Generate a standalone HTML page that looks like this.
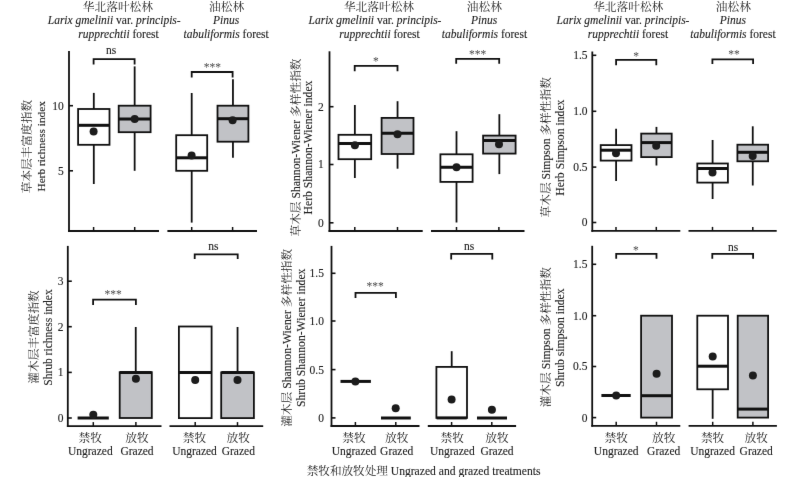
<!DOCTYPE html>
<html><head><meta charset="utf-8"><title>Figure</title>
<style>
html,body{margin:0;padding:0;background:#fff;width:800px;height:477px;overflow:hidden}
svg{display:block;will-change:transform}
text{font-family:"Liberation Serif", "Noto Serif CJK SC", serif;stroke:#1e1e1e;stroke-width:0.12px;fill:#1e1e1e}
.c{stroke:none}
.ast{stroke:none;fill:#4a4a4a}
</style></head><body>
<svg width="800" height="477" viewBox="0 0 800 477">
<defs><filter id="bl" x="0" y="0" width="800" height="477" filterUnits="userSpaceOnUse" color-interpolation-filters="sRGB"><feConvolveMatrix order="3" kernelMatrix="0.00276 0.04704 0.00276 0.04704 0.80077 0.04704 0.00276 0.04704 0.00276" divisor="1" edgeMode="duplicate"/></filter></defs>
<g filter="url(#bl)">
<rect width="800" height="477" fill="#fff"/>
<g stroke="#111111" fill="#111111">
<line x1="69" y1="51" x2="69" y2="231.9" stroke-width="1.8" stroke-linecap="butt"/>
<line x1="68.1" y1="231" x2="159" y2="231" stroke-width="1.8" stroke-linecap="butt"/>
<line x1="167.4" y1="231" x2="257" y2="231" stroke-width="1.8" stroke-linecap="butt"/>
<line x1="69" y1="105.7" x2="73" y2="105.7" stroke-width="1.6" stroke-linecap="butt"/>
<text x="63.8" y="109.60000000000001" text-anchor="end" font-size="11.5" >10</text>
<line x1="69" y1="170.8" x2="73" y2="170.8" stroke-width="1.6" stroke-linecap="butt"/>
<text x="63.8" y="174.70000000000002" text-anchor="end" font-size="11.5" >5</text>
<line x1="93.6" y1="231" x2="93.6" y2="227" stroke-width="1.5" stroke-linecap="butt"/>
<line x1="134.7" y1="231" x2="134.7" y2="227" stroke-width="1.5" stroke-linecap="butt"/>
<line x1="191.7" y1="231" x2="191.7" y2="227" stroke-width="1.5" stroke-linecap="butt"/>
<line x1="232.6" y1="231" x2="232.6" y2="227" stroke-width="1.5" stroke-linecap="butt"/>
<line x1="93.8" y1="92.9" x2="93.8" y2="109" stroke-width="1.8" stroke-linecap="butt"/>
<line x1="93.8" y1="144.8" x2="93.8" y2="184" stroke-width="1.8" stroke-linecap="butt"/>
<rect x="78.1" y="109" width="31.400000000000006" height="35.80000000000001" fill="#fff" stroke-width="1.8"/>
<line x1="78.3" y1="125.3" x2="109.3" y2="125.3" stroke-width="3.0" stroke-linecap="butt"/>
<circle cx="93.6" cy="131.5" r="4.0" stroke="none" fill="#1c1c1c"/>
<line x1="134.65" y1="66.4" x2="134.65" y2="105.7" stroke-width="1.8" stroke-linecap="butt"/>
<line x1="134.65" y1="132.2" x2="134.65" y2="170.8" stroke-width="1.8" stroke-linecap="butt"/>
<rect x="118.7" y="105.7" width="31.89999999999999" height="26.499999999999986" fill="#c1c2c6" stroke-width="1.8"/>
<line x1="118.9" y1="118.9" x2="150.4" y2="118.9" stroke-width="3.0" stroke-linecap="butt"/>
<circle cx="134.7" cy="118.9" r="4.0" stroke="none" fill="#1c1c1c"/>
<line x1="191.7" y1="93" x2="191.7" y2="135.2" stroke-width="1.8" stroke-linecap="butt"/>
<line x1="191.7" y1="170.8" x2="191.7" y2="222.6" stroke-width="1.8" stroke-linecap="butt"/>
<rect x="176.2" y="135.2" width="31.0" height="35.60000000000002" fill="#fff" stroke-width="1.8"/>
<line x1="176.39999999999998" y1="157.8" x2="207.0" y2="157.8" stroke-width="3.0" stroke-linecap="butt"/>
<circle cx="191.6" cy="155.5" r="4.0" stroke="none" fill="#1c1c1c"/>
<line x1="232.95" y1="79.2" x2="232.95" y2="105.7" stroke-width="1.8" stroke-linecap="butt"/>
<line x1="232.95" y1="141.7" x2="232.95" y2="157.7" stroke-width="1.8" stroke-linecap="butt"/>
<rect x="217.5" y="105.7" width="30.900000000000006" height="35.999999999999986" fill="#c1c2c6" stroke-width="1.8"/>
<line x1="217.7" y1="118.7" x2="248.20000000000002" y2="118.7" stroke-width="3.0" stroke-linecap="butt"/>
<circle cx="232.6" cy="120.3" r="4.0" stroke="none" fill="#1c1c1c"/>
<polyline points="93.6,64.5 93.6,59.2 134.6,59.2 134.6,64.5" fill="none" stroke-width="1.8"/>
<text x="111" y="54.4" text-anchor="middle" font-size="11.5" >ns</text>
<polyline points="191.7,77.4 191.7,72 232.6,72 232.6,77.4" fill="none" stroke-width="1.8"/>
<text x="212.3" y="71.0" text-anchor="middle" font-size="11.5" class="ast">***</text>
<line x1="67.8" y1="245.9" x2="67.8" y2="427.0" stroke-width="1.8" stroke-linecap="butt"/>
<line x1="66.89999999999999" y1="426.1" x2="161.5" y2="426.1" stroke-width="1.8" stroke-linecap="butt"/>
<line x1="169.5" y1="426.1" x2="263.2" y2="426.1" stroke-width="1.8" stroke-linecap="butt"/>
<line x1="67.8" y1="281.2" x2="71.8" y2="281.2" stroke-width="1.6" stroke-linecap="butt"/>
<text x="63.6" y="285.09999999999997" text-anchor="end" font-size="11.5" >3</text>
<line x1="67.8" y1="326.7" x2="71.8" y2="326.7" stroke-width="1.6" stroke-linecap="butt"/>
<text x="63.6" y="330.59999999999997" text-anchor="end" font-size="11.5" >2</text>
<line x1="67.8" y1="372.4" x2="71.8" y2="372.4" stroke-width="1.6" stroke-linecap="butt"/>
<text x="63.6" y="376.29999999999995" text-anchor="end" font-size="11.5" >1</text>
<line x1="67.8" y1="418" x2="71.8" y2="418" stroke-width="1.6" stroke-linecap="butt"/>
<text x="63.6" y="421.9" text-anchor="end" font-size="11.5" >0</text>
<line x1="93.3" y1="426.1" x2="93.3" y2="422.1" stroke-width="1.5" stroke-linecap="butt"/>
<line x1="135.9" y1="426.1" x2="135.9" y2="422.1" stroke-width="1.5" stroke-linecap="butt"/>
<line x1="195.2" y1="426.1" x2="195.2" y2="422.1" stroke-width="1.5" stroke-linecap="butt"/>
<line x1="237.5" y1="426.1" x2="237.5" y2="422.1" stroke-width="1.5" stroke-linecap="butt"/>
<line x1="77.6" y1="418" x2="108.8" y2="418" stroke-width="3.0" stroke-linecap="butt"/>
<circle cx="93.3" cy="414.8" r="4.0" stroke="none" fill="#1c1c1c"/>
<line x1="135.75" y1="327" x2="135.75" y2="372.2" stroke-width="1.8" stroke-linecap="butt"/>
<rect x="119.7" y="372.2" width="32.10000000000001" height="45.80000000000001" fill="#c1c2c6" stroke-width="1.8"/>
<line x1="119.9" y1="372.4" x2="151.60000000000002" y2="372.4" stroke-width="3.0" stroke-linecap="butt"/>
<circle cx="135.9" cy="378.7" r="4.0" stroke="none" fill="#1c1c1c"/>
<rect x="178.9" y="326.5" width="32.69999999999999" height="91.60000000000002" fill="#fff" stroke-width="1.8"/>
<line x1="179.1" y1="372.4" x2="211.4" y2="372.4" stroke-width="3.0" stroke-linecap="butt"/>
<circle cx="195.2" cy="379.9" r="4.0" stroke="none" fill="#1c1c1c"/>
<line x1="237.55" y1="327" x2="237.55" y2="372.4" stroke-width="1.8" stroke-linecap="butt"/>
<rect x="221.2" y="372.4" width="32.70000000000002" height="45.700000000000045" fill="#c1c2c6" stroke-width="1.8"/>
<line x1="221.39999999999998" y1="372.4" x2="253.70000000000002" y2="372.4" stroke-width="3.0" stroke-linecap="butt"/>
<circle cx="237.5" cy="379.9" r="4.0" stroke="none" fill="#1c1c1c"/>
<polyline points="93.1,304.9 93.1,299.6 135.9,299.6 135.9,304.9" fill="none" stroke-width="1.8"/>
<text x="113" y="297.5" text-anchor="middle" font-size="11.5" class="ast">***</text>
<polyline points="194.7,259.1 194.7,254.3 237.7,254.3 237.7,259.1" fill="none" stroke-width="1.8"/>
<text x="213.4" y="249.7" text-anchor="middle" font-size="11.5" >ns</text>
<line x1="329.5" y1="51.3" x2="329.5" y2="231.9" stroke-width="1.8" stroke-linecap="butt"/>
<line x1="328.6" y1="231" x2="422.7" y2="231" stroke-width="1.8" stroke-linecap="butt"/>
<line x1="431" y1="231" x2="524.5" y2="231" stroke-width="1.8" stroke-linecap="butt"/>
<line x1="329.5" y1="106.7" x2="333.5" y2="106.7" stroke-width="1.6" stroke-linecap="butt"/>
<text x="323.8" y="110.60000000000001" text-anchor="end" font-size="11.5" >2</text>
<line x1="329.5" y1="164.5" x2="333.5" y2="164.5" stroke-width="1.6" stroke-linecap="butt"/>
<text x="323.8" y="168.4" text-anchor="end" font-size="11.5" >1</text>
<line x1="329.5" y1="222.8" x2="333.5" y2="222.8" stroke-width="1.6" stroke-linecap="butt"/>
<text x="323.8" y="226.70000000000002" text-anchor="end" font-size="11.5" >0</text>
<line x1="354.8" y1="231" x2="354.8" y2="227" stroke-width="1.5" stroke-linecap="butt"/>
<line x1="397.5" y1="231" x2="397.5" y2="227" stroke-width="1.5" stroke-linecap="butt"/>
<line x1="456.5" y1="231" x2="456.5" y2="227" stroke-width="1.5" stroke-linecap="butt"/>
<line x1="498.9" y1="231" x2="498.9" y2="227" stroke-width="1.5" stroke-linecap="butt"/>
<line x1="354.85" y1="105" x2="354.85" y2="134.8" stroke-width="1.8" stroke-linecap="butt"/>
<line x1="354.85" y1="159.2" x2="354.85" y2="178" stroke-width="1.8" stroke-linecap="butt"/>
<rect x="338.5" y="134.8" width="32.69999999999999" height="24.399999999999977" fill="#fff" stroke-width="1.8"/>
<line x1="338.7" y1="143.6" x2="371.0" y2="143.6" stroke-width="3.0" stroke-linecap="butt"/>
<circle cx="354.9" cy="145.2" r="4.0" stroke="none" fill="#1c1c1c"/>
<line x1="397.55" y1="101.2" x2="397.55" y2="117.9" stroke-width="1.8" stroke-linecap="butt"/>
<line x1="397.55" y1="154" x2="397.55" y2="168.7" stroke-width="1.8" stroke-linecap="butt"/>
<rect x="381.6" y="117.9" width="31.899999999999977" height="36.099999999999994" fill="#c1c2c6" stroke-width="1.8"/>
<line x1="381.8" y1="133.2" x2="413.3" y2="133.2" stroke-width="3.0" stroke-linecap="butt"/>
<circle cx="397.5" cy="134.3" r="4.0" stroke="none" fill="#1c1c1c"/>
<line x1="456.5" y1="131.2" x2="456.5" y2="154.3" stroke-width="1.8" stroke-linecap="butt"/>
<line x1="456.5" y1="181.9" x2="456.5" y2="222.5" stroke-width="1.8" stroke-linecap="butt"/>
<rect x="440.4" y="154.3" width="32.200000000000045" height="27.599999999999994" fill="#fff" stroke-width="1.8"/>
<line x1="440.59999999999997" y1="167.2" x2="472.40000000000003" y2="167.2" stroke-width="3.0" stroke-linecap="butt"/>
<circle cx="456.5" cy="167.2" r="4.0" stroke="none" fill="#1c1c1c"/>
<line x1="499.35" y1="114.2" x2="499.35" y2="135.6" stroke-width="1.8" stroke-linecap="butt"/>
<line x1="499.35" y1="153.6" x2="499.35" y2="174.1" stroke-width="1.8" stroke-linecap="butt"/>
<rect x="483.1" y="135.6" width="32.5" height="18.0" fill="#c1c2c6" stroke-width="1.8"/>
<line x1="483.3" y1="140.5" x2="515.4" y2="140.5" stroke-width="3.0" stroke-linecap="butt"/>
<circle cx="499" cy="144.2" r="4.0" stroke="none" fill="#1c1c1c"/>
<polyline points="354.7,71.3 354.7,65.9 397.5,65.9 397.5,71.3" fill="none" stroke-width="1.8"/>
<text x="375.9" y="65.3" text-anchor="middle" font-size="11.5" class="ast">*</text>
<polyline points="456.2,63.8 456.2,58.9 499.2,58.9 499.2,63.8" fill="none" stroke-width="1.8"/>
<text x="477.5" y="58.0" text-anchor="middle" font-size="11.5" class="ast">***</text>
<line x1="331.5" y1="245.9" x2="331.5" y2="426.9" stroke-width="1.8" stroke-linecap="butt"/>
<line x1="330.6" y1="426" x2="419.5" y2="426" stroke-width="1.8" stroke-linecap="butt"/>
<line x1="427.8" y1="426" x2="516.1" y2="426" stroke-width="1.8" stroke-linecap="butt"/>
<line x1="331.5" y1="273.3" x2="335.5" y2="273.3" stroke-width="1.6" stroke-linecap="butt"/>
<text x="323.9" y="277.2" text-anchor="end" font-size="11.5" >1.5</text>
<line x1="331.5" y1="321" x2="335.5" y2="321" stroke-width="1.6" stroke-linecap="butt"/>
<text x="323.9" y="324.9" text-anchor="end" font-size="11.5" >1.0</text>
<line x1="331.5" y1="369.6" x2="335.5" y2="369.6" stroke-width="1.6" stroke-linecap="butt"/>
<text x="323.9" y="373.5" text-anchor="end" font-size="11.5" >0.5</text>
<line x1="331.5" y1="417.9" x2="335.5" y2="417.9" stroke-width="1.6" stroke-linecap="butt"/>
<text x="323.9" y="421.79999999999995" text-anchor="end" font-size="11.5" >0</text>
<line x1="355.4" y1="426" x2="355.4" y2="422" stroke-width="1.5" stroke-linecap="butt"/>
<line x1="395.8" y1="426" x2="395.8" y2="422" stroke-width="1.5" stroke-linecap="butt"/>
<line x1="451.6" y1="426" x2="451.6" y2="422" stroke-width="1.5" stroke-linecap="butt"/>
<line x1="491.8" y1="426" x2="491.8" y2="422" stroke-width="1.5" stroke-linecap="butt"/>
<line x1="340.5" y1="381.4" x2="370.9" y2="381.4" stroke-width="3.0" stroke-linecap="butt"/>
<circle cx="355.4" cy="381.4" r="4.0" stroke="none" fill="#1c1c1c"/>
<line x1="381" y1="418" x2="410.8" y2="418" stroke-width="3.0" stroke-linecap="butt"/>
<circle cx="395.7" cy="408.2" r="4.0" stroke="none" fill="#1c1c1c"/>
<line x1="451.7" y1="351.2" x2="451.7" y2="366.9" stroke-width="1.8" stroke-linecap="butt"/>
<rect x="436.4" y="366.9" width="30.600000000000023" height="51.0" fill="#fff" stroke-width="1.8"/>
<line x1="436.59999999999997" y1="417.9" x2="466.8" y2="417.9" stroke-width="3.0" stroke-linecap="butt"/>
<circle cx="451.6" cy="399.5" r="4.0" stroke="none" fill="#1c1c1c"/>
<line x1="477" y1="418" x2="507" y2="418" stroke-width="3.0" stroke-linecap="butt"/>
<circle cx="491.9" cy="409.7" r="4.0" stroke="none" fill="#1c1c1c"/>
<polyline points="355.5,297.9 355.5,292.9 395.9,292.9 395.9,297.9" fill="none" stroke-width="1.8"/>
<text x="375" y="290.0" text-anchor="middle" font-size="11.5" class="ast">***</text>
<polyline points="451.2,259.5 451.2,253.8 492.3,253.8 492.3,259.5" fill="none" stroke-width="1.8"/>
<text x="469.2" y="249.6" text-anchor="middle" font-size="11.5" >ns</text>
<line x1="592.3" y1="51.5" x2="592.3" y2="231.8" stroke-width="1.8" stroke-linecap="butt"/>
<line x1="591.4" y1="230.9" x2="680.3" y2="230.9" stroke-width="1.8" stroke-linecap="butt"/>
<line x1="688.5" y1="230.9" x2="776.7" y2="230.9" stroke-width="1.8" stroke-linecap="butt"/>
<line x1="592.3" y1="55.3" x2="596.3" y2="55.3" stroke-width="1.6" stroke-linecap="butt"/>
<text x="587.6" y="59.199999999999996" text-anchor="end" font-size="11.5" >1.5</text>
<line x1="592.3" y1="111.3" x2="596.3" y2="111.3" stroke-width="1.6" stroke-linecap="butt"/>
<text x="587.6" y="115.2" text-anchor="end" font-size="11.5" >1.0</text>
<line x1="592.3" y1="167.1" x2="596.3" y2="167.1" stroke-width="1.6" stroke-linecap="butt"/>
<text x="587.6" y="171.0" text-anchor="end" font-size="11.5" >0.5</text>
<line x1="592.3" y1="222.5" x2="596.3" y2="222.5" stroke-width="1.6" stroke-linecap="butt"/>
<text x="587.6" y="226.4" text-anchor="end" font-size="11.5" >0</text>
<line x1="616" y1="230.9" x2="616" y2="226.9" stroke-width="1.5" stroke-linecap="butt"/>
<line x1="656.3" y1="230.9" x2="656.3" y2="226.9" stroke-width="1.5" stroke-linecap="butt"/>
<line x1="712.5" y1="230.9" x2="712.5" y2="226.9" stroke-width="1.5" stroke-linecap="butt"/>
<line x1="752.8" y1="230.9" x2="752.8" y2="226.9" stroke-width="1.5" stroke-linecap="butt"/>
<line x1="616.1" y1="128.8" x2="616.1" y2="145.1" stroke-width="1.8" stroke-linecap="butt"/>
<line x1="616.1" y1="160.6" x2="616.1" y2="181" stroke-width="1.8" stroke-linecap="butt"/>
<rect x="600.7" y="145.1" width="30.799999999999955" height="15.5" fill="#fff" stroke-width="1.8"/>
<line x1="600.9000000000001" y1="150.2" x2="631.3" y2="150.2" stroke-width="3.0" stroke-linecap="butt"/>
<circle cx="616" cy="153.3" r="4.0" stroke="none" fill="#1c1c1c"/>
<line x1="656.45" y1="126.9" x2="656.45" y2="133.6" stroke-width="1.8" stroke-linecap="butt"/>
<line x1="656.45" y1="157.1" x2="656.45" y2="165.5" stroke-width="1.8" stroke-linecap="butt"/>
<rect x="641.2" y="133.6" width="30.5" height="23.5" fill="#c1c2c6" stroke-width="1.8"/>
<line x1="641.4000000000001" y1="142.6" x2="671.5" y2="142.6" stroke-width="3.0" stroke-linecap="butt"/>
<circle cx="656.2" cy="145.8" r="4.0" stroke="none" fill="#1c1c1c"/>
<line x1="712.5999999999999" y1="140" x2="712.5999999999999" y2="163.5" stroke-width="1.8" stroke-linecap="butt"/>
<line x1="712.5999999999999" y1="182.6" x2="712.5999999999999" y2="199" stroke-width="1.8" stroke-linecap="butt"/>
<rect x="697.3" y="163.5" width="30.600000000000023" height="19.099999999999994" fill="#fff" stroke-width="1.8"/>
<line x1="697.5" y1="168.5" x2="727.6999999999999" y2="168.5" stroke-width="3.0" stroke-linecap="butt"/>
<circle cx="712.5" cy="172.6" r="4.0" stroke="none" fill="#1c1c1c"/>
<line x1="752.75" y1="126.3" x2="752.75" y2="144.7" stroke-width="1.8" stroke-linecap="butt"/>
<line x1="752.75" y1="161.3" x2="752.75" y2="185.5" stroke-width="1.8" stroke-linecap="butt"/>
<rect x="737.4" y="144.7" width="30.700000000000045" height="16.600000000000023" fill="#c1c2c6" stroke-width="1.8"/>
<line x1="737.6" y1="152.3" x2="767.9" y2="152.3" stroke-width="3.0" stroke-linecap="butt"/>
<circle cx="752.7" cy="156.1" r="4.0" stroke="none" fill="#1c1c1c"/>
<polyline points="616.1,65.2 616.1,59.9 656.3,59.9 656.3,65.2" fill="none" stroke-width="1.8"/>
<text x="636" y="60.0" text-anchor="middle" font-size="11.5" class="ast">*</text>
<polyline points="712.4,64.1 712.4,59.3 753.1,59.3 753.1,64.1" fill="none" stroke-width="1.8"/>
<text x="734" y="58.3" text-anchor="middle" font-size="11.5" class="ast">**</text>
<line x1="592.2" y1="245.8" x2="592.2" y2="426.7" stroke-width="1.8" stroke-linecap="butt"/>
<line x1="591.3000000000001" y1="425.8" x2="680.3" y2="425.8" stroke-width="1.8" stroke-linecap="butt"/>
<line x1="688.6" y1="425.8" x2="776.9" y2="425.8" stroke-width="1.8" stroke-linecap="butt"/>
<line x1="592.2" y1="264.3" x2="596.2" y2="264.3" stroke-width="1.6" stroke-linecap="butt"/>
<text x="587.4" y="268.2" text-anchor="end" font-size="11.5" >1.5</text>
<line x1="592.2" y1="315.7" x2="596.2" y2="315.7" stroke-width="1.6" stroke-linecap="butt"/>
<text x="587.4" y="319.59999999999997" text-anchor="end" font-size="11.5" >1.0</text>
<line x1="592.2" y1="366.5" x2="596.2" y2="366.5" stroke-width="1.6" stroke-linecap="butt"/>
<text x="587.4" y="370.4" text-anchor="end" font-size="11.5" >0.5</text>
<line x1="592.2" y1="417.6" x2="596.2" y2="417.6" stroke-width="1.6" stroke-linecap="butt"/>
<text x="587.4" y="421.5" text-anchor="end" font-size="11.5" >0</text>
<line x1="616.2" y1="425.8" x2="616.2" y2="421.8" stroke-width="1.5" stroke-linecap="butt"/>
<line x1="656.5" y1="425.8" x2="656.5" y2="421.8" stroke-width="1.5" stroke-linecap="butt"/>
<line x1="712.7" y1="425.8" x2="712.7" y2="421.8" stroke-width="1.5" stroke-linecap="butt"/>
<line x1="752.9" y1="425.8" x2="752.9" y2="421.8" stroke-width="1.5" stroke-linecap="butt"/>
<line x1="601.4" y1="395.5" x2="630.7" y2="395.5" stroke-width="3.0" stroke-linecap="butt"/>
<circle cx="616.2" cy="395.5" r="4.0" stroke="none" fill="#1c1c1c"/>
<rect x="641.1" y="315.7" width="30.899999999999977" height="101.90000000000003" fill="#c1c2c6" stroke-width="1.8"/>
<line x1="641.3000000000001" y1="395.7" x2="671.8" y2="395.7" stroke-width="3.0" stroke-linecap="butt"/>
<circle cx="656.6" cy="373.8" r="4.0" stroke="none" fill="#1c1c1c"/>
<line x1="712.65" y1="389.3" x2="712.65" y2="418.8" stroke-width="1.8" stroke-linecap="butt"/>
<rect x="697.3" y="315.7" width="30.700000000000045" height="73.60000000000002" fill="#fff" stroke-width="1.8"/>
<line x1="697.5" y1="366.2" x2="727.8" y2="366.2" stroke-width="3.0" stroke-linecap="butt"/>
<circle cx="712.7" cy="356.5" r="4.0" stroke="none" fill="#1c1c1c"/>
<rect x="737.7" y="315.7" width="30.399999999999977" height="101.90000000000003" fill="#c1c2c6" stroke-width="1.8"/>
<line x1="737.9000000000001" y1="409.1" x2="767.9" y2="409.1" stroke-width="3.0" stroke-linecap="butt"/>
<circle cx="752.9" cy="375.4" r="4.0" stroke="none" fill="#1c1c1c"/>
<polyline points="616.2,258.8 616.2,253.9 656.5,253.9 656.5,258.8" fill="none" stroke-width="1.8"/>
<text x="635.8" y="254.1" text-anchor="middle" font-size="11.5" class="ast">*</text>
<polyline points="712.3,258.8 712.3,253.9 753.1,253.9 753.1,258.8" fill="none" stroke-width="1.8"/>
<text x="733" y="250.7" text-anchor="middle" font-size="11.5" >ns</text>
</g>
<g fill="#1e1e1e" font-family='"Liberation Serif", "Noto Serif CJK SC", serif'>
<text x="117.9" y="10.6" text-anchor="middle" font-size="11.7"><tspan class="c">华北落叶松林</tspan></text>
<text x="114.2" y="24" text-anchor="middle" font-size="11.5"><tspan font-style="italic">Larix gmelinii</tspan> var. <tspan font-style="italic">principis-</tspan></text>
<text x="118.5" y="37.9" text-anchor="middle" font-size="11.5"><tspan font-style="italic">rupprechtii</tspan> forest</text>
<text x="226.6" y="10.6" text-anchor="middle" font-size="11.7"><tspan class="c">油松林</tspan></text>
<text x="226.2" y="24" text-anchor="middle" font-size="11.5"><tspan font-style="italic">Pinus</tspan></text>
<text x="226.1" y="37.9" text-anchor="middle" font-size="11.5"><tspan font-style="italic">tabuliformis</tspan> forest</text>
<text x="379.0" y="10.6" text-anchor="middle" font-size="11.7"><tspan class="c">华北落叶松林</tspan></text>
<text x="375" y="24" text-anchor="middle" font-size="11.5"><tspan font-style="italic">Larix gmelinii</tspan> var. <tspan font-style="italic">principis-</tspan></text>
<text x="379.5" y="37.9" text-anchor="middle" font-size="11.5"><tspan font-style="italic">rupprechtii</tspan> forest</text>
<text x="484.4" y="10.6" text-anchor="middle" font-size="11.7"><tspan class="c">油松林</tspan></text>
<text x="484.2" y="24" text-anchor="middle" font-size="11.5"><tspan font-style="italic">Pinus</tspan></text>
<text x="484.5" y="37.9" text-anchor="middle" font-size="11.5"><tspan font-style="italic">tabuliformis</tspan> forest</text>
<text x="628.2" y="10.6" text-anchor="middle" font-size="11.7"><tspan class="c">华北落叶松林</tspan></text>
<text x="623" y="24" text-anchor="middle" font-size="11.5"><tspan font-style="italic">Larix gmelinii</tspan> var. <tspan font-style="italic">principis-</tspan></text>
<text x="628" y="37.9" text-anchor="middle" font-size="11.5"><tspan font-style="italic">rupprechtii</tspan> forest</text>
<text x="733.4" y="10.6" text-anchor="middle" font-size="11.7"><tspan class="c">油松林</tspan></text>
<text x="732.8" y="24" text-anchor="middle" font-size="11.5"><tspan font-style="italic">Pinus</tspan></text>
<text x="733" y="37.9" text-anchor="middle" font-size="11.5"><tspan font-style="italic">tabuliformis</tspan> forest</text>
<text x="90.3" y="441.5" text-anchor="middle" font-size="11.7"><tspan class="c">禁牧</tspan></text>
<text x="137" y="441.5" text-anchor="middle" font-size="11.7"><tspan class="c">放牧</tspan></text>
<text x="90.3" y="455.2" text-anchor="middle" font-size="11.5">Ungrazed</text>
<text x="137" y="455.2" text-anchor="middle" font-size="11.5">Grazed</text>
<text x="194.5" y="441.5" text-anchor="middle" font-size="11.7"><tspan class="c">禁牧</tspan></text>
<text x="238.3" y="441.5" text-anchor="middle" font-size="11.7"><tspan class="c">放牧</tspan></text>
<text x="194.5" y="455.2" text-anchor="middle" font-size="11.5">Ungrazed</text>
<text x="238.3" y="455.2" text-anchor="middle" font-size="11.5">Grazed</text>
<text x="354" y="441.5" text-anchor="middle" font-size="11.7"><tspan class="c">禁牧</tspan></text>
<text x="396.7" y="441.5" text-anchor="middle" font-size="11.7"><tspan class="c">放牧</tspan></text>
<text x="354" y="455.2" text-anchor="middle" font-size="11.5">Ungrazed</text>
<text x="396.7" y="455.2" text-anchor="middle" font-size="11.5">Grazed</text>
<text x="452.3" y="441.5" text-anchor="middle" font-size="11.7"><tspan class="c">禁牧</tspan></text>
<text x="497" y="441.5" text-anchor="middle" font-size="11.7"><tspan class="c">放牧</tspan></text>
<text x="452.3" y="455.2" text-anchor="middle" font-size="11.5">Ungrazed</text>
<text x="497" y="455.2" text-anchor="middle" font-size="11.5">Grazed</text>
<text x="616.2" y="441.5" text-anchor="middle" font-size="11.7"><tspan class="c">禁牧</tspan></text>
<text x="663.7" y="441.5" text-anchor="middle" font-size="11.7"><tspan class="c">放牧</tspan></text>
<text x="616.2" y="455.2" text-anchor="middle" font-size="11.5">Ungrazed</text>
<text x="663.7" y="455.2" text-anchor="middle" font-size="11.5">Grazed</text>
<text x="712.6" y="441.5" text-anchor="middle" font-size="11.7"><tspan class="c">禁牧</tspan></text>
<text x="756.2" y="441.5" text-anchor="middle" font-size="11.7"><tspan class="c">放牧</tspan></text>
<text x="712.6" y="455.2" text-anchor="middle" font-size="11.5">Ungrazed</text>
<text x="756.2" y="455.2" text-anchor="middle" font-size="11.5">Grazed</text>
<text x="423.6" y="474.5" text-anchor="middle" font-size="11.6"><tspan class="c">禁牧和放牧处理</tspan> Ungrazed and grazed treatments</text>
<text transform="translate(31.1,146.6) rotate(-90)" x="0" y="0" text-anchor="middle" font-size="11.7"><tspan class="c">草本层丰富度指数</tspan></text>
<text transform="translate(45.4,146.3) rotate(-90)" x="0" y="0" text-anchor="middle" font-size="11.3">Herb richness index</text>
<text transform="translate(38.0,337) rotate(-90)" x="0" y="0" text-anchor="middle" font-size="11.7"><tspan class="c">灌木层丰富度指数</tspan></text>
<text transform="translate(52.2,337.5) rotate(-90)" x="0" y="0" text-anchor="middle" font-size="11.5">Shrub richness index</text>
<text transform="translate(299.6,147.5) rotate(-90)" x="0" y="0" text-anchor="middle" font-size="11.7"><tspan class="c">草木层</tspan> Shannon-Wiener <tspan class="c">多样性指数</tspan></text>
<text transform="translate(312.2,147.5) rotate(-90)" x="0" y="0" text-anchor="middle" font-size="11.7">Herb Shannon-Wiener index</text>
<text transform="translate(291.0,337.8) rotate(-90)" x="0" y="0" text-anchor="middle" font-size="11.7"><tspan class="c">灌木层</tspan> Shannon-Wiener <tspan class="c">多样性指数</tspan></text>
<text transform="translate(304.8,337.8) rotate(-90)" x="0" y="0" text-anchor="middle" font-size="11.7">Shrub Shannon-Wiener index</text>
<text transform="translate(550.4,147.3) rotate(-90)" x="0" y="0" text-anchor="middle" font-size="11.7"><tspan class="c">草木层</tspan> Simpson <tspan class="c">多样性指数</tspan></text>
<text transform="translate(564.0,147.6) rotate(-90)" x="0" y="0" text-anchor="middle" font-size="11.7">Herb Simpson index</text>
<text transform="translate(550.4,337.2) rotate(-90)" x="0" y="0" text-anchor="middle" font-size="11.7"><tspan class="c">灌木层</tspan> Simpson <tspan class="c">多样性指数</tspan></text>
<text transform="translate(564.4,337.7) rotate(-90)" x="0" y="0" text-anchor="middle" font-size="11.7">Shrub simpson index</text>
</g>
</g>
</svg>
</body></html>
